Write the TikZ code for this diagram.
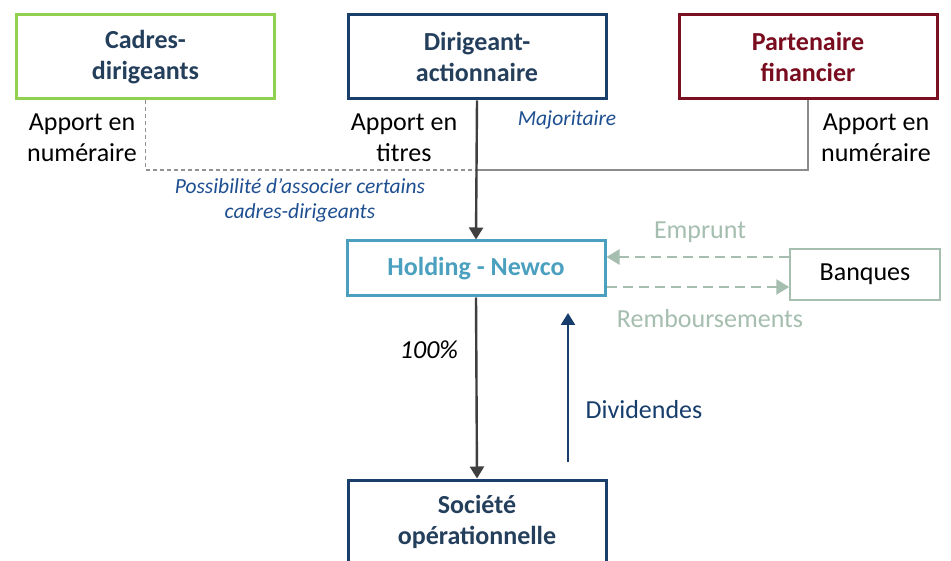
\documentclass[tikz,border=0pt]{standalone}
\usepackage{fontspec}
\setmainfont{Carlito}
\usetikzlibrary{arrows.meta}
\definecolor{cgreen}{HTML}{92D050}
\definecolor{cnavy}{HTML}{1B3F6B}
\definecolor{cnavytext}{HTML}{243F5C}
\definecolor{cred}{HTML}{7A1020}
\definecolor{credtext}{HTML}{7A0C1F}
\definecolor{cteal}{HTML}{4BA0BF}
\definecolor{carrow}{HTML}{3F3F3F}
\definecolor{cgrayline}{HTML}{8C8C8C}
\definecolor{cdash}{HTML}{929292}
\definecolor{cblue}{HTML}{1E4F91}
\definecolor{cdiv}{HTML}{163D6C}
\definecolor{csage}{HTML}{A5BEAF}
\tikzset{
  box/.style={draw, line width=3pt, minimum width=258pt, inner sep=0pt, align=center,
    font=\fontsize{26}{31}\selectfont\bfseries},
  lbl/.style={inner sep=0pt, align=center, font=\fontsize{26}{31}\selectfont},
  note/.style={inner sep=0pt, align=center, text=cblue, font=\fontsize{21.5}{25}\selectfont\itshape},
  darrow/.style={draw=carrow, line width=2.4pt, -{Triangle[width=14pt,length=12pt]}},
  sagearrow/.style={draw=csage, line width=2.5pt, dash pattern=on 10pt off 6pt, -{Triangle[width=15pt,length=13pt]}}
}
\begin{document}
\begin{tikzpicture}[x=1pt,y=-1pt]
\clip (0,0) rectangle (951,561);
\fill[white] (0,0) rectangle (951,561);
% boxes
\node[box, draw=cgreen, text=cnavytext, minimum height=84pt] (cad) at (145.5,57) {Cadres-\\dirigeants};
\node[box, draw=cnavy, text=cnavytext, minimum height=84pt] (dir) at (477,57) {Dirigeant-\\actionnaire};
\node[box, draw=cred, text=credtext, minimum height=84pt] (par) at (808,57) {Partenaire\\financier};
\node[box, draw=cteal, text=cteal, minimum height=55pt] (hold) at (476,268.5) {Holding - Newco};
\node[draw=csage, line width=1.5pt, minimum width=150pt, minimum height=51pt, inner sep=0pt,
  font=\fontsize{26}{31}\selectfont] (ban) at (865,274.5) {Banques};
\node[box, draw=cnavy, text=cnavytext, minimum height=84pt] (soc) at (477,522) {Société\\opérationnelle};
% junction
\coordinate (J) at (477,170);
\draw[cdash, line width=1.8pt, dash pattern=on 4pt off 3pt] (cad.south) |- (J);
\draw[cgrayline, line width=2.2pt] (par.south) |- (J);
\draw[darrow] (dir.south) -- (hold.north);
\draw[darrow] (hold.south) -- (soc.north);
% dividends
\coordinate (dA) at (568,462);
\coordinate (dB) at (568,313);
\draw[draw=cdiv, line width=2.4pt, -{Triangle[width=14pt,length=12pt]}] (dA) -- (dB);
% bank flows
\coordinate (ey) at (0,257);
\coordinate (ry) at (0,287);
\draw[sagearrow] (ban.west |- ey) -- (hold.east |- ey);
\draw[sagearrow] (hold.east |- ry) -- (ban.west |- ry);
% labels
\node[lbl] (l1) at (82,138) {Apport en\\numéraire};
\node[lbl] (l2) at (404,138) {Apport en\\titres};
\node[lbl] (l3) at (876,138) {Apport en\\numéraire};
\node[note] (maj) at (567,120) {Majoritaire};
\node[note] (pos) at (300,200) {Possibilité d’associer certains\\cadres-dirigeants};
\node[lbl, text=csage] (emp) at (700,232) {Emprunt};
\node[lbl, text=csage] (rem) at (710,319) {Remboursements};
\node[lbl, font=\fontsize{26}{31}\selectfont\itshape] (pct) at (429,350) {100\%};
\node[lbl, text=cdiv] (divl) at (644,410) {Dividendes};
\end{tikzpicture}
\end{document}
